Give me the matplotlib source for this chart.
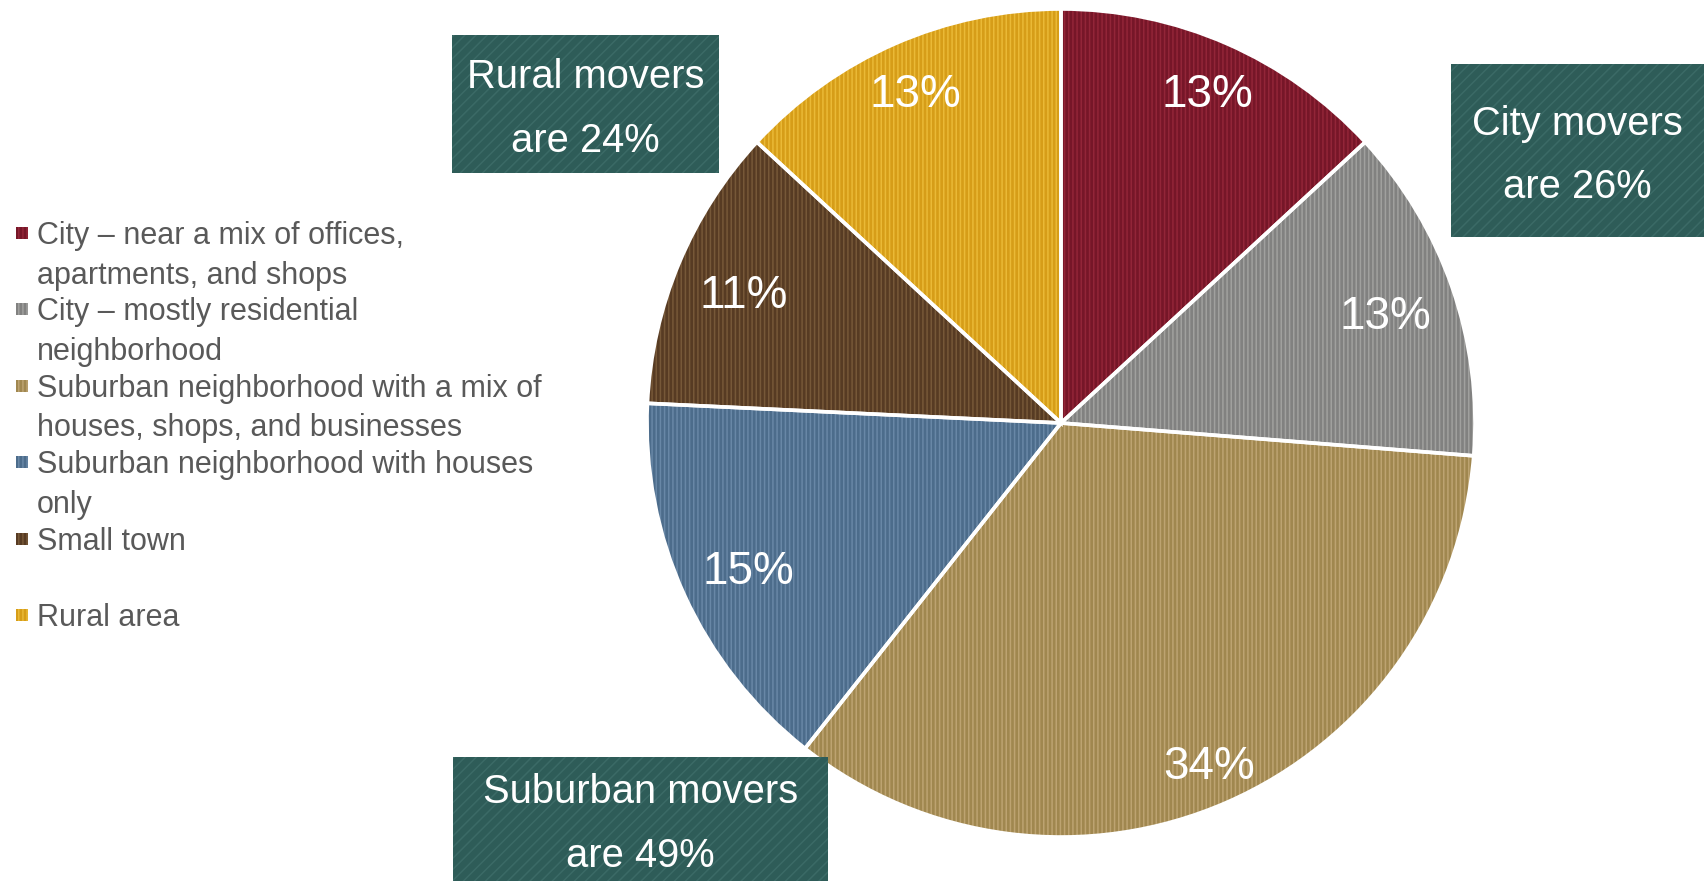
# круговая диаграмма: где хотели бы жить переезжающие
import numpy as np
import matplotlib.pyplot as plt
from matplotlib.patches import Rectangle

plt.rcParams['font.family'] = ['Liberation Sans', 'DejaVu Sans']
plt.rcParams['hatch.linewidth'] = 1.1

# данные
categories = [
    'City – near a mix of offices,\napartments, and shops',
    'City – mostly residential\nneighborhood',
    'Suburban neighborhood with a mix of\nhouses, shops, and businesses',
    'Suburban neighborhood with houses\nonly',
    'Small town\n',
    'Rural area',
]
shares = [13, 13, 34, 15, 11, 13]
callouts = ['Rural movers\nare 24%', 'City movers\nare 26%', 'Suburban movers\nare 49%']

# цвета секторов и полосок
base_colors = ['#761628', '#818180', '#a0874f', '#4c6c8b', '#573b23', '#d69d18']
stripe_colors = ['#922538', '#a0a09e', '#bda371', '#6887a6', '#765838', '#eab936']
label_radius = [0.88, 0.83, 0.89, 0.83, 0.83, 0.88]

W, H = 1704, 881
fig = plt.figure(figsize=(W / 100, H / 100), dpi=100)

# ось под пирог: центр (1061, 423), радиус 414 px
cx, cy, r = 1061, 423, 414
ax = fig.add_axes([(cx - r) / W, (H - cy - r) / H, 2 * r / W, 2 * r / H])

wedges, _ = ax.pie(shares, startangle=90, counterclock=False, colors=base_colors,
                   wedgeprops=dict(linewidth=0))
for w, sc in zip(wedges, stripe_colors):
    w.set_hatch('||||')
    w.set_edgecolor(sc)

# белые разделители поверх
ax.pie(shares, startangle=90, counterclock=False,
       wedgeprops=dict(fill=False, edgecolor='white', linewidth=2.6))

# подписи процентов внутри секторов
for w, v, rr in zip(wedges, shares, label_radius):
    mid = np.deg2rad((w.theta1 + w.theta2) / 2)
    ax.annotate(f'{v}%', (rr * np.cos(mid), rr * np.sin(mid)),
                xytext=(0, -4.5), textcoords='offset points', color='white',
                fontsize=33, ha='center', va='center')
ax.set_xlim(-1, 1)
ax.set_ylim(-1, 1)
ax.axis('off')

# легенда вручную
row_h = 38.2
row = 0
for lab, bc, sc in zip(categories, base_colors, stripe_colors):
    base_y = 243 + row * row_h
    fig.add_artist(Rectangle((16 / W, 1 - (base_y - 4) / H), 12 / W, 12 / H,
                             transform=fig.transFigure, facecolor=bc,
                             edgecolor=sc, hatch='||||', linewidth=0))
    fig.text(37 / W, 1 - (base_y - 22) / H, lab, fontsize=22, color='#595959',
             ha='left', va='top', linespacing=1.42)
    row += lab.count('\n') + 1

# плашки с итогами
boxes = [(452, 35, 719, 173), (1451, 64, 1704, 237), (453, 757, 828, 881)]
for (x0, y0, x1, y1), txt in zip(boxes, callouts):
    fig.add_artist(Rectangle((x0 / W, 1 - y1 / H), (x1 - x0) / W, (y1 - y0) / H,
                             transform=fig.transFigure, facecolor='#2e5c58',
                             edgecolor='#3b6a66', hatch='///', linewidth=0))
    fig.text((x0 + x1) / 2 / W, 1 - ((y0 + y1) / 2 + 5) / H, txt, color='white',
             fontsize=28.7, ha='center', va='center', linespacing=1.85)

fig.savefig('out.png', dpi=100)
